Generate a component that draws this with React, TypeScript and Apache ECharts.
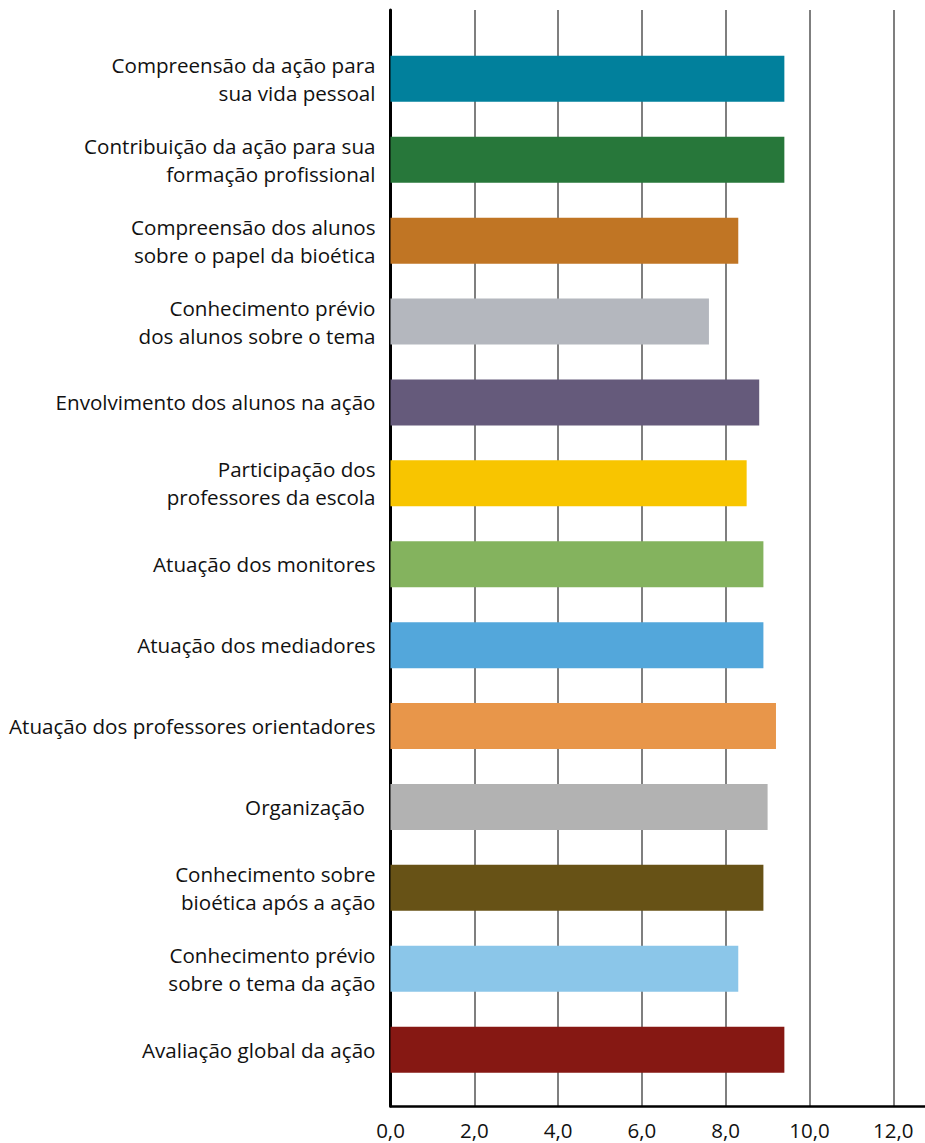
import React, { useEffect, useRef } from "react";
import * as echarts from "echarts";

const categories: string[] = [
  "Compreensão da ação para\nsua vida pessoal",
  "Contribuição da ação para sua\nformação profissional",
  "Compreensão dos alunos\nsobre o papel da bioética",
  "Conhecimento prévio\ndos alunos sobre o tema",
  "Envolvimento dos alunos na ação",
  "Participação dos\nprofessores da escola",
  "Atuação dos monitores",
  "Atuação dos mediadores",
  "Atuação dos professores orientadores",
  "Organização  ",
  "Conhecimento sobre\nbioética após a ação",
  "Conhecimento prévio\nsobre o tema da ação",
  "Avaliação global da ação",
];

const values: number[] = [9.4, 9.4, 8.3, 7.6, 8.8, 8.5, 8.9, 8.9, 9.2, 9.0, 8.9, 8.3, 9.4];

const colors: string[] = [
  "#01809c",
  "#27773a",
  "#c07524",
  "#b4b7be",
  "#655a7b",
  "#f8c500",
  "#84b35e",
  "#53a7db",
  "#e8964a",
  "#b2b2b2",
  "#675216",
  "#8bc6e9",
  "#861813",
];

const tickMax = 12;

const FONT = "'Open Sans', 'Noto Sans', sans-serif";

export default function App() {
  const ref = useRef<HTMLDivElement>(null);

  useEffect(() => {
    if (!ref.current) return;
    const chart = echarts.init(ref.current, undefined, { renderer: "svg" });
    const unit = 41.9;
    const left = 390.5;
    const xmax = 14;
    const width = unit * xmax;
    chart.setOption({
      animation: false,
      backgroundColor: "#ffffff",
      grid: [
        { left, top: 10, width, height: 1096 },
        { left, top: 38.4, width, height: 1051.7 },
      ],
      xAxis: [
        {
          gridIndex: 0,
          type: "value",
          min: 0,
          max: xmax,
          interval: 2,
          axisLine: { show: true, lineStyle: { color: "#000", width: 2.5 } },
          axisTick: { show: false },
          splitLine: { show: true, lineStyle: { color: "#555", width: 1.5 } },
          axisLabel: {
            margin: 13,
            fontFamily: FONT,
            fontSize: 20.5,
            color: "#111",
            formatter: (v: number) => (v > tickMax ? "" : v.toFixed(1).replace(".", ",")),
          },
        },
        {
          gridIndex: 1,
          type: "value",
          min: 0,
          max: xmax,
          show: false,
        },
      ],
      yAxis: [
        {
          gridIndex: 0,
          type: "value",
          min: 0,
          max: 1,
          axisLine: { show: true, lineStyle: { color: "#000", width: 3 } },
          axisTick: { show: false },
          axisLabel: { show: false },
          splitLine: { show: false },
        },
        {
          gridIndex: 1,
          type: "category",
          inverse: true,
          data: categories,
          axisLine: { show: false },
          axisTick: { show: false },
          splitLine: { show: false },
          axisLabel: {
            margin: 15,
            align: "right",
            fontFamily: FONT,
            fontSize: 20.6,
            lineHeight: 28,
            color: "#111",
          },
        },
      ],
      series: [
        {
          type: "bar",
          xAxisIndex: 1,
          yAxisIndex: 1,
          barWidth: 46,
          data: values.map((v, i) => ({ value: v, itemStyle: { color: colors[i] } })),
        },
      ],
    });
    return () => chart.dispose();
  }, []);

  return (
    <div
      style={{
        position: "fixed",
        left: 0,
        top: 0,
        width: 925,
        height: 1143,
        overflow: "hidden",
        background: "#fff",
      }}
    >
      <div ref={ref} style={{ width: 1000, height: 1143 }} />
    </div>
  );
}
